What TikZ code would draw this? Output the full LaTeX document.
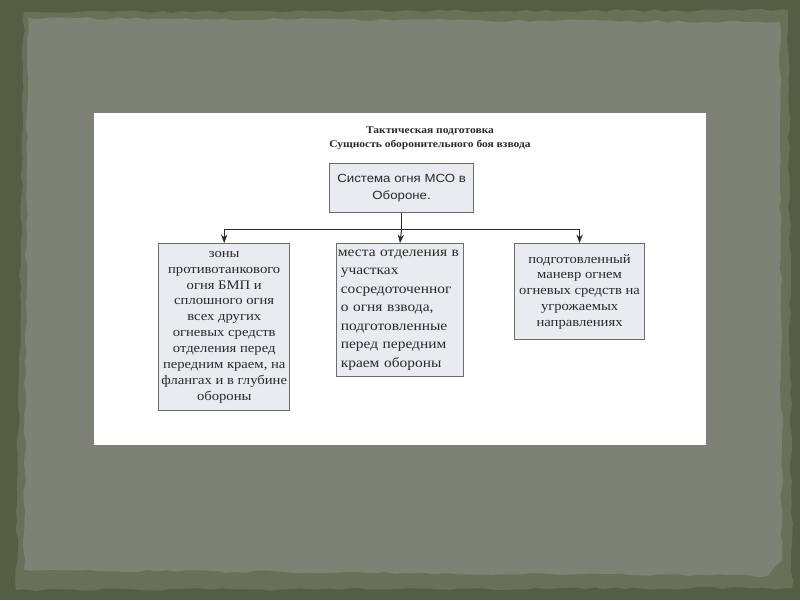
\documentclass[tikz,border=0pt]{standalone}
\usepackage{fontspec}
\setmainfont{Liberation Serif}[FakeStretch=1.12]
\newfontfamily\sansbox{Liberation Sans}[FakeStretch=1.12]
\usetikzlibrary{decorations.pathmorphing,arrows.meta}
\definecolor{frame}{HTML}{565D45}
\definecolor{band}{HTML}{687059}
\definecolor{paper}{HTML}{7D8275}
\definecolor{boxfill}{HTML}{E9EBF1}
\definecolor{boxline}{HTML}{6C6C6C}
\definecolor{ink}{HTML}{2A2A2A}
\tikzset{
  box/.style={draw=boxline, fill=boxfill, line width=0.8pt, inner sep=2pt,
    anchor=north west, text=ink, font=\fontsize{9.3}{11.3}\selectfont},
  link/.style={draw=ink, line width=0.7pt},
  rough/.style={decorate, decoration={random steps, segment length=7pt, amplitude=1pt}}
}
\begin{document}
\begin{tikzpicture}[x=0.025cm, y=-0.025cm, >={Stealth[length=6pt,width=4.5pt]}]
\pgfmathsetseed{11}
\useasboundingbox (0,0) rectangle (800,600);
% background
\fill[frame] (0,0) rectangle (800,600);
\fill[band, rough] (24,12) -- (788,10) -- (792,588) -- (16,590) -- cycle;
\fill[paper, rough] (28,18) -- (780,22) -- (782,560) -- (768,576) -- (24,570) -- cycle;
\fill[white] (94,113) rectangle (706,445);

% title
\node (title) at (430,138) [align=center, text=ink, font=\bfseries\fontsize{7.3}{9.6}\selectfont]
  {Тактическая подготовка\\Сущность оборонительного боя взвода};

% boxes
\node (sys) at (329,163) [box, minimum width=3.6cm, minimum height=1.225cm, align=center,
  font=\sansbox\fontsize{8.4}{12}\selectfont]
  {Система огня МСО в\\Обороне.};
\node (zones) at (158,243) [box, minimum width=3.275cm, minimum height=4.175cm, align=center]
  {зоны\\противотанкового\\огня БМП и\\сплошного огня\\всех других\\огневых средств\\отделения перед\\передним краем, на\\флангах и в глубине\\обороны};
\node (places) at (336,243) [box, text width=3.1cm, minimum height=3.325cm, align=left,
  inner sep=1pt, font=\fontsize{9.8}{13.2}\selectfont]
  {места отделения в\\\hspace*{2pt}участках\\\hspace*{2pt}сосредоточенног\\\hspace*{2pt}о огня взвода,\\\hspace*{2pt}подготовленные\\\hspace*{2pt}перед передним\\\hspace*{2pt}краем обороны};
\node (maneuver) at (514,243) [box, minimum width=3.25cm, minimum height=2.4cm, align=center,
  font=\fontsize{9.3}{11.2}\selectfont]
  {подготовленный\\маневр огнем\\огневых средств на\\угрожаемых\\направлениях};

% connectors
\path (sys.south) ++(0,16) coordinate (fork);
\draw[link] (sys.south) -- (fork);
\draw[link, ->] (fork) -| (zones.north);
\draw[link, ->] (fork) -- (places.north);
\draw[link, ->] (fork) -| (maneuver.north);

\end{tikzpicture}
\end{document}
